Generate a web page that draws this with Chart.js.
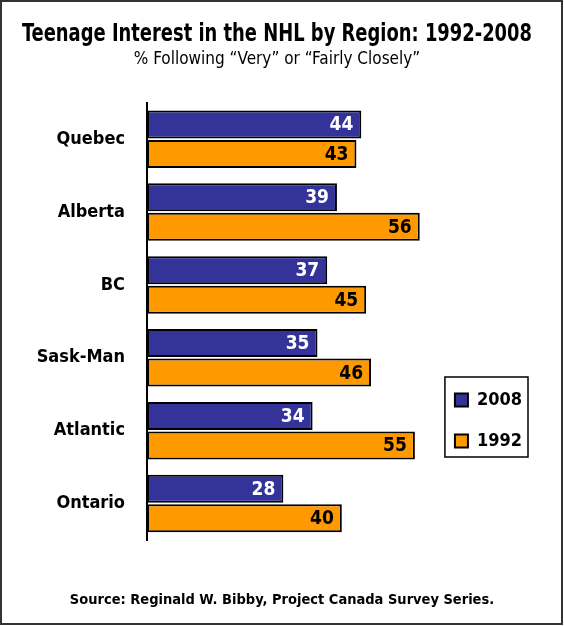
<!DOCTYPE html>
<html>
<head>
<meta charset="utf-8">
<title>Teenage Interest in the NHL by Region</title>
<script src="https://cdn.jsdelivr.net/npm/chart.js@4.4.1/dist/chart.umd.min.js"></script>
<style>
  html, body { margin: 0; padding: 0; background: #fff; }
  #wrap { width: 564px; height: 626px; }
</style>
</head>
<body>
<div id="wrap"><canvas id="nhl-chart" width="564" height="626"></canvas></div>
<script>
// Data
const regions = ['Quebec', 'Alberta', 'BC', 'Sask-Man', 'Atlantic', 'Ontario'];
const seriesNames = ['2008', '1992'];
const values2008 = [44, 39, 37, 35, 34, 28];
const values1992 = [43, 56, 45, 46, 55, 40];

const FONT = "'Liberation Sans Narrow', 'Arial Narrow', 'DejaVu Sans Condensed', sans-serif";
const sourceText = 'Source: Reginald W. Bibby, Project Canada Survey Series.';

// white background + thin frame round the whole picture
const framePlugin = {
    id: 'frame',
    beforeDraw(chart) {
        const ctx = chart.ctx;
        ctx.save();
        ctx.fillStyle = '#fff';
        ctx.fillRect(0, 0, chart.width, chart.height);
        ctx.restore();
    },
    afterDraw(chart) {
        const ctx = chart.ctx;
        ctx.save();
        ctx.strokeStyle = '#333';
        ctx.lineWidth = 2;
        ctx.strokeRect(1, 1, chart.width - 3, chart.height - 3);
        ctx.restore();
    }
};

// numbers printed inside the end of each bar
const valueLabels = {
    id: 'valueLabels',
    afterDatasetsDraw(chart) {
        const ctx = chart.ctx;
        ctx.save();
        ctx.font = 'bold 19px ' + FONT;
        ctx.textAlign = 'right';
        ctx.textBaseline = 'middle';
        chart.data.datasets.forEach((ds, i) => {
            const meta = chart.getDatasetMeta(i);
            ctx.fillStyle = ds.labelColor;
            meta.data.forEach((bar, j) => {
                ctx.fillText(String(ds.data[j]), bar.x - 8, bar.y + 1);
            });
        });
        ctx.restore();
    }
};

// source line under the chart
const sourceNote = {
    id: 'sourceNote',
    afterDraw(chart) {
        const ctx = chart.ctx;
        ctx.save();
        ctx.font = 'bold 14.5px ' + FONT;
        ctx.fillStyle = '#000';
        ctx.textAlign = 'center';
        ctx.textBaseline = 'middle';
        ctx.fillText(sourceText, chart.width / 2, chart.chartArea.bottom + 60);
        ctx.restore();
    }
};

// move the legend down next to the lower bars and put a box round it
const legendBox = {
    id: 'legendBox',
    afterLayout(chart) {
        const lg = chart.legend;
        lg.top -= 67;
        lg.bottom -= 67;
    },
    afterDraw(chart) {
        const boxes = chart.legend.legendHitBoxes;
        if (!boxes || !boxes.length) return;
        const first = boxes[0];
        const last = boxes[boxes.length - 1];
        const ctx = chart.ctx;
        ctx.save();
        ctx.strokeStyle = '#000';
        ctx.lineWidth = 1.5;
        const x0 = first.left - 10;
        const y0 = first.top - 14;
        const x1 = first.left + first.width + 6;
        const y1 = last.top + last.height + 7;
        ctx.strokeRect(x0, y0, x1 - x0, y1 - y0);
        ctx.restore();
    }
};

new Chart(document.getElementById('nhl-chart'), {
    type: 'bar',
    data: {
        labels: regions,
        datasets: [
            {
                label: seriesNames[0],
                data: values2008,
                backgroundColor: '#333399',
                borderColor: '#000',
                borderWidth: 2,
                borderSkipped: false,
                labelColor: '#fff',
                barPercentage: 0.95,
                categoryPercentage: 0.81
            },
            {
                label: seriesNames[1],
                data: values1992,
                backgroundColor: '#FF9900',
                borderColor: '#000',
                borderWidth: 2,
                borderSkipped: false,
                labelColor: '#000',
                barPercentage: 0.95,
                categoryPercentage: 0.81
            }
        ]
    },
    options: {
        indexAxis: 'y',
        responsive: false,
        animation: false,
        devicePixelRatio: 1,
        layout: {
            padding: { left: 22, right: 32, top: 0, bottom: 86 }
        },
        scales: {
            x: {
                display: false,
                min: 0,
                max: 58.5
            },
            y: {
                grid: { display: false, drawTicks: false },
                border: { display: true, color: '#000', width: 2 },
                ticks: {
                    color: '#000',
                    padding: 22,
                    font: { family: FONT, size: 18, weight: 'bold' }
                },
                afterFit(scale) {
                    scale.width = 125;
                }
            }
        },
        plugins: {
            title: {
                display: true,
                text: 'Teenage Interest in the NHL by Region: 1992-2008',
                color: '#000',
                font: { family: FONT, size: 24.8, weight: 'bold' },
                padding: { top: 20, bottom: 0 }
            },
            subtitle: {
                display: true,
                text: '% Following \u201cVery\u201d or \u201cFairly Closely\u201d',
                color: '#000',
                font: { family: FONT, size: 17, weight: 'normal' },
                padding: { top: 0, bottom: 32.6 }
            },
            legend: {
                position: 'right',
                align: 'end',
                labels: {
                    boxWidth: 13,
                    boxHeight: 13,
                    padding: 23,
                    color: '#000',
                    font: { family: FONT, size: 18, weight: 'bold' }
                }
            },
            tooltip: { enabled: false }
        }
    },
    plugins: [framePlugin, valueLabels, sourceNote, legendBox]
});
</script>
</body>
</html>
